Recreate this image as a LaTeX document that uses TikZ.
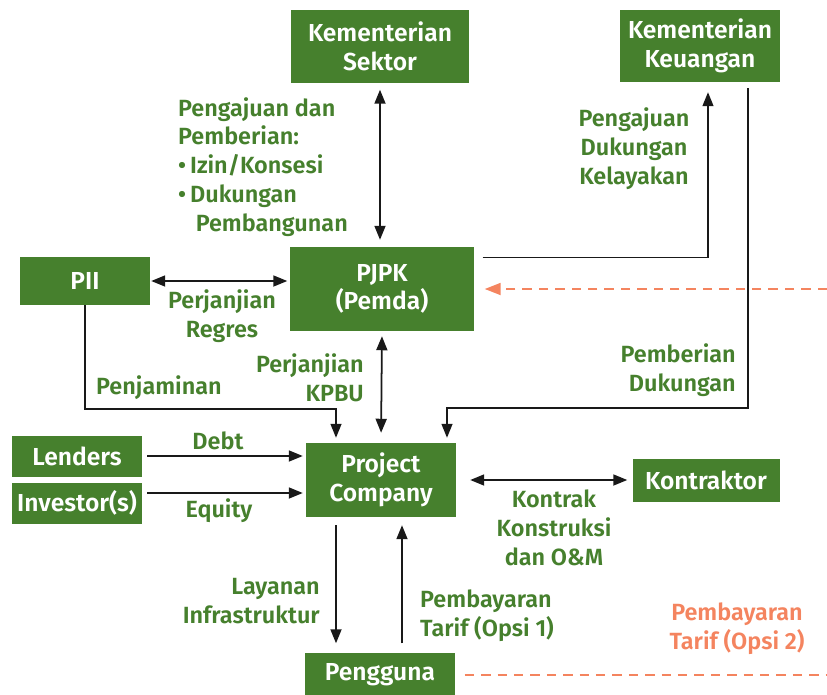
\documentclass[tikz,border=0pt]{standalone}
\usepackage{fontspec}
\setmainfont{Fira Sans}[BoldFont={Fira Sans SemiBold}]
\usetikzlibrary{arrows.meta}
\definecolor{kpgreen}{HTML}{46802D}
\definecolor{kporange}{HTML}{F4845F}
\tikzset{
    box/.style={fill=kpgreen, text=white, font=\fontsize{21}{24.5}\selectfont\bfseries, align=center, inner sep=0pt},
    lbl/.style={text=kpgreen, font=\fontsize{20}{24.7}\selectfont\bfseries, inner sep=0pt},
    arr/.style={draw=black!90, line width=1.5pt, -{Triangle[length=0.42cm,width=0.33cm]}},
    dblarr/.style={arr, {Triangle[length=0.42cm,width=0.33cm]}-{Triangle[length=0.42cm,width=0.33cm]}},
    elbow/.style={arr, line width=1.2pt},
    opsi/.style={draw=kporange, line width=1.5pt, dash pattern=on 8pt off 6pt}
}
\begin{document}
\begin{tikzpicture}[x=0.03cm, y=-0.03cm]
\useasboundingbox (0,0) rectangle (827,695);

% boxes
\node[box, minimum width=5.34cm, minimum height=2.19cm] (ks) at (380,46) {Kementerian\\Sektor};
\node[box, minimum width=4.8cm, minimum height=2.16cm] (kk) at (700,46) {Kementerian\\Keuangan};
\node[box, minimum width=3.9cm, minimum height=1.44cm] (pii) at (85,281) {PII};
\node[box, minimum width=5.49cm, minimum height=2.52cm] (pjpk) at (382,289) {PJPK\\(Pemda)};
\node[box, minimum width=3.9cm, minimum height=1.23cm] (lenders) at (77,456) {Lenders};
\node[box, minimum width=3.9cm, minimum height=1.23cm] (investors) at (77,503) {Investor(s)};
\node[box, minimum width=4.5cm, minimum height=2.22cm] (pc) at (381,480) {Project\\Company};
\node[box, minimum width=4.41cm, minimum height=1.29cm] (kontraktor) at (706,480) {Kontraktor};
\node[box, minimum width=4.47cm, minimum height=1.35cm] (pengguna) at (380,675) {Pengguna};

% connectors
\draw[dblarr, shorten <=0.21cm, shorten >=0.21cm] (ks.south) -- (ks.south |- pjpk.north);
\draw[elbow, shorten >=0.3cm] (pjpk.north east) ++(9,11) coordinate (pjpkout) -| ([xshift=0.24cm]kk.south);
\draw[elbow, shorten >=0.15cm] (kk.south) ++(48,6) |- (447,408) coordinate (kkpc) -- (kkpc |- pc.north);
\draw[dblarr, shorten <=0.03cm, shorten >=0.09cm] (pii.east) -- (pii.east -| pjpk.west);
\draw[elbow, shorten >=0.15cm] (pii.south) |- (336,409) coordinate (piipc) -- (piipc |- pc.north);
\draw[dblarr, shorten <=0.15cm, shorten >=0.3cm] (pjpk.south) -- (pc.north);
\draw[arr, shorten <=0.15cm, shorten >=0.09cm] (lenders.east) -- (lenders.east -| pc.west);
\draw[arr, shorten >=0.09cm] (investors.east) ++(5,-10) coordinate (eqout) -- (eqout -| pc.west);
\draw[dblarr, shorten <=0.42cm, shorten >=0.15cm] (pc.east) -- (kontraktor.west);
\draw[arr, shorten >=0.27cm] (pc.south) ++(-45,8) coordinate (layanan) -- (layanan |- pengguna.north);
\draw[arr, shorten >=0.24cm] (pengguna.north) ++(22,-9) coordinate (bayar) -- (bayar |- pc.south);
\coordinate (opsiin) at (827,289);
\draw[opsi, -{Triangle[length=0.48cm,width=0.36cm]}, shorten >=0.33cm] (opsiin) -- (opsiin -| pjpk.east);
\coordinate (opsiout) at (827,675);
\draw[opsi] (pengguna.east) ++(10,0) -- (opsiout);

% labels
\node[lbl, anchor=north west, align=left] (izin) at (178,97) {Pengajuan dan\\Pemberian:\\\textbullet\,Izin/Konsesi\\\textbullet\,Dukungan\\\hspace*{0.75em}Pembangunan};
\node[lbl, align=center] (kelayakan) at (634,149) {Pengajuan\\Dukungan\\Kelayakan};
\node[lbl, align=center] (regres) at (222,316) {Perjanjian\\Regres};
\node[lbl, anchor=west] (jamin) at (96,388) {Penjaminan};
\node[lbl, anchor=east, align=right] (kpbu) at (364,378) {Perjanjian\\KPBU};
\node[lbl, anchor=east, align=right] (dukungan) at (736,370) {Pemberian\\Dukungan};
\node[lbl] (debt) at (218,441) {Debt};
\node[lbl] (equity) at (219,511) {Equity};
\node[lbl, align=center] (kontrak) at (554,528) {Kontrak\\Konstruksi\\dan O\&M};
\node[lbl, anchor=east, align=right] (infra) at (320,601) {Layanan\\Infrastruktur};
\node[lbl, anchor=west, align=left] (opsi1) at (420,616) {Pembayaran\\Tarif (Opsi 1)};
\node[lbl, text=kporange, align=center] (opsi2) at (737,629) {Pembayaran\\Tarif (Opsi 2)};
\end{tikzpicture}
\end{document}
